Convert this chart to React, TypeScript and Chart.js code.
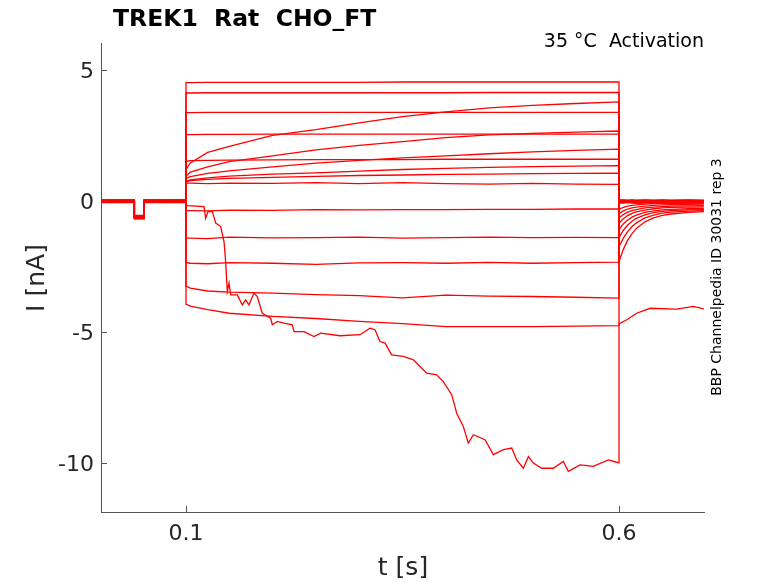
import React, { useEffect, useRef } from 'react';
import { Chart, registerables } from 'chart.js';

Chart.register(...registerables);

const FONT = '"DejaVu Sans", "Liberation Sans", sans-serif';
const AXIS_COLOR = '#555555';
const TEXT_COLOR = '#262626';
const TRACE_COLOR = '#ff0000';

const titleText = 'TREK1  Rat  CHO_FT';
const noteText = '35 °C  Activation';
const sideText = 'BBP Channelpedia ID 30031 rep 3';
const xLabel = 't [s]';
const yLabel = 'I [nA]';

const X_MIN = 0.00185;
const X_MAX = 0.69815;
const Y_MIN = -11.88;
const Y_MAX = 6.03;

const xTickValues = [0.1, 0.6];
const xTickLabels = ['0.1', '0.6'];
const yTickValues = [-10, -5, 0, 5];
const yTickLabels = ['-10', '-5', '0', '5'];

// Holding period with the short test pulse (time in s)
const preTimes = [X_MIN, 0.0404, 0.0404, 0.0516, 0.0516, 0.1];
const holdLevels = [0.02, 0.0, -0.03, 0.03, -0.05, 0.01, -0.02, 0.04, -0.04, 0.0, 0.02, -0.06, 0.01, -0.03, 0.03, -0.01, 0.0];
const pulseDips = [-0.55, -0.6, -0.66, -0.58, -0.69, -0.62, -0.57, -0.64, -0.68, -0.6, -0.56, -0.67, -0.63, -0.59, -0.65, -0.61, -0.62];

// Voltage-step period
const stepTimes = [0.1, 0.105, 0.125, 0.15, 0.2, 0.25, 0.3, 0.35, 0.4, 0.45, 0.5, 0.55, 0.6];
const traceA = [4.52, 4.52, 4.53, 4.53, 4.53, 4.53, 4.53, 4.54, 4.54, 4.54, 4.54, 4.54, 4.54];
const traceB = [4.12, 4.12, 4.13, 4.13, 4.13, 4.13, 4.13, 4.13, 4.13, 4.14, 4.14, 4.14, 4.14];
const traceC = [1.2, 1.45, 1.85, 2.08, 2.5, 2.72, 2.98, 3.22, 3.4, 3.55, 3.65, 3.72, 3.78];
const traceD = [3.37, 3.37, 3.38, 3.38, 3.38, 3.38, 3.38, 3.38, 3.38, 3.38, 3.38, 3.38, 3.38];
const traceE = [0.95, 1.1, 1.3, 1.5, 1.72, 1.95, 2.12, 2.26, 2.42, 2.52, 2.58, 2.63, 2.67];
const traceF = [2.53, 2.53, 2.54, 2.54, 2.55, 2.55, 2.55, 2.55, 2.55, 2.55, 2.55, 2.55, 2.55];
const traceG = [0.85, 0.93, 1.05, 1.15, 1.3, 1.44, 1.55, 1.64, 1.72, 1.8, 1.87, 1.93, 1.98];
const traceH = [1.5, 1.54, 1.55, 1.56, 1.57, 1.58, 1.58, 1.58, 1.59, 1.59, 1.59, 1.59, 1.59];
const traceI = [0.75, 0.8, 0.88, 0.95, 1.02, 1.07, 1.14, 1.2, 1.24, 1.28, 1.31, 1.33, 1.35];
const traceJ = [0.72, 0.78, 0.82, 0.86, 0.9, 0.94, 0.97, 0.99, 1.01, 1.02, 1.04, 1.05, 1.06];
const traceK = [0.68, 0.68, 0.66, 0.68, 0.67, 0.7, 0.66, 0.7, 0.66, 0.64, 0.67, 0.64, 0.63];
const traceL = [-0.37, -0.37, -0.38, -0.35, -0.36, -0.33, -0.34, -0.33, -0.33, -0.32, -0.32, -0.31, -0.31];
const traceM = [-1.42, -1.42, -1.44, -1.38, -1.41, -1.4, -1.38, -1.42, -1.4, -1.38, -1.4, -1.39, -1.4];
const traceN = [-2.35, -2.38, -2.4, -2.36, -2.38, -2.42, -2.37, -2.36, -2.38, -2.35, -2.38, -2.36, -2.34];
const traceO = [-3.25, -3.33, -3.44, -3.48, -3.52, -3.58, -3.62, -3.7, -3.6, -3.64, -3.65, -3.68, -3.71];
const traceP = [-3.95, -4.02, -4.15, -4.29, -4.41, -4.49, -4.6, -4.69, -4.8, -4.8, -4.8, -4.78, -4.76];
const stepTraces = [traceA, traceB, traceC, traceD, traceE, traceF, traceG, traceH, traceI, traceJ, traceK, traceL, traceM, traceN, traceO, traceP];

// Tail currents after the step
const tailTimes = [0.6, 0.605, 0.61, 0.615, 0.62, 0.63, 0.64, 0.65, 0.66, 0.68, 0.698];
const tail1 = [-2.32, -1.85, -1.5, -1.25, -1.05, -0.8, -0.65, -0.55, -0.5, -0.44, -0.41];
const tail2 = [-1.75, -1.42, -1.17, -0.98, -0.84, -0.65, -0.54, -0.47, -0.43, -0.39, -0.37];
const tail3 = [-1.4, -1.12, -0.92, -0.78, -0.67, -0.53, -0.45, -0.4, -0.37, -0.34, -0.33];
const tail4 = [-1.1, -0.88, -0.73, -0.62, -0.54, -0.44, -0.38, -0.34, -0.32, -0.3, -0.29];
const tail5 = [-0.85, -0.68, -0.56, -0.48, -0.42, -0.35, -0.3, -0.27, -0.25, -0.24, -0.23];
const tail6 = [-0.65, -0.52, -0.43, -0.37, -0.33, -0.27, -0.24, -0.22, -0.2, -0.19, -0.18];
const tail7 = [-0.48, -0.38, -0.31, -0.27, -0.24, -0.2, -0.17, -0.15, -0.14, -0.13, -0.12];
const tail8 = [-0.32, -0.25, -0.2, -0.17, -0.15, -0.12, -0.1, -0.09, -0.08, -0.08, -0.07];
const tailFlat1 = [0.03, 0.03, 0.02, 0.03, 0.02, 0.03, 0.02, 0.03, 0.02, 0.03, 0.02];
const tailFlat2 = [-0.03, -0.03, -0.02, -0.03, -0.04, -0.03, -0.02, -0.03, -0.04, -0.03, -0.03];
const tailFlat3 = [-0.07, -0.07, -0.06, -0.07, -0.08, -0.07, -0.06, -0.07, -0.08, -0.07, -0.07];
const tailSets = [tail1, tail2, tail3, tail4, tail5, tail6, tail7, tail8, tailFlat1, tailFlat2, tailFlat3];
// which tail each step trace A..P continues into
const tailOfTrace = [6, 7, 0, 8, 1, 9, 2, 5, 3, 4, 10, 8, 9, 10, 9, 8];

// The trace whose seal breaks down during the step
const qTimes = [0.1, 0.1015, 0.1208, 0.1227, 0.1254, 0.1304, 0.1343, 0.1401, 0.1439, 0.1458, 0.1477, 0.1497, 0.1516, 0.1592, 0.165, 0.1689, 0.1727, 0.1785, 0.1823, 0.1881, 0.1978, 0.1997, 0.2054, 0.2132, 0.2227, 0.2247, 0.2363, 0.2478, 0.2555, 0.2778, 0.3009, 0.3125, 0.3182, 0.324, 0.3298, 0.3375, 0.3509, 0.3625, 0.3682, 0.3779, 0.3895, 0.3971, 0.4068, 0.4126, 0.4202, 0.426, 0.4318, 0.4453, 0.4549, 0.4664, 0.4761, 0.4819, 0.4895, 0.4954, 0.5012, 0.5107, 0.5242, 0.5357, 0.5415, 0.555, 0.5703, 0.5877, 0.5974, 0.6, 0.6, 0.6089, 0.6204, 0.6358, 0.6666, 0.6858, 0.698];
const qValues = [-0.15, -0.18, -0.22, -0.66, -0.41, -0.41, -0.85, -0.98, -1.55, -2.32, -3.46, -3.14, -3.59, -3.59, -3.97, -3.78, -3.97, -3.52, -3.65, -4.29, -4.48, -4.73, -4.6, -4.67, -4.73, -4.99, -4.99, -5.18, -5.05, -5.15, -5.11, -4.86, -4.92, -5.37, -5.43, -5.88, -5.94, -6.07, -6.26, -6.58, -6.64, -6.9, -7.4, -8.11, -8.61, -9.25, -8.93, -9.12, -9.69, -9.5, -9.44, -9.89, -10.21, -9.76, -10.01, -10.21, -10.21, -9.95, -10.33, -10.08, -10.14, -9.89, -9.98, -10.0, -4.7, -4.54, -4.29, -4.1, -4.13, -4.03, -4.12];

function prePoints(i: number) {
  const h = holdLevels[i];
  const d = pulseDips[i];
  const vals = [h, h, d, d, h, h];
  return preTimes.map((t, k) => ({ x: t, y: vals[k] }));
}

function buildDatasets() {
  const sets: any[] = [];
  stepTraces.forEach((tr, i) => {
    const pts = prePoints(i);
    stepTimes.forEach((t, k) => pts.push({ x: t, y: tr[k] }));
    const tail = tailSets[tailOfTrace[i]];
    tailTimes.forEach((t, k) => pts.push({ x: t, y: tail[k] }));
    sets.push(pts);
  });
  const q = prePoints(16);
  qTimes.forEach((t, k) => q.push({ x: t, y: qValues[k] }));
  sets.push(q);
  return sets.map((data) => ({
    data,
    borderColor: TRACE_COLOR,
    borderWidth: 1.3,
    pointRadius: 0,
    tension: 0,
    fill: false,
  }));
}

const overlay = {
  id: 'overlay',
  afterDraw(chart: any) {
    const { ctx, chartArea, scales } = chart;
    ctx.save();
    // inward tick marks
    ctx.strokeStyle = AXIS_COLOR;
    ctx.lineWidth = 1;
    ctx.beginPath();
    yTickValues.forEach((v) => {
      const py = Math.round(scales.y.getPixelForValue(v)) + 0.5;
      ctx.moveTo(chartArea.left, py);
      ctx.lineTo(chartArea.left + 6, py);
    });
    xTickValues.forEach((v) => {
      const px = Math.round(scales.x.getPixelForValue(v)) + 0.5;
      ctx.moveTo(px, chartArea.bottom);
      ctx.lineTo(px, chartArea.bottom - 6);
    });
    ctx.stroke();

    // y tick labels (digits centred on the tick)
    ctx.fillStyle = TEXT_COLOR;
    ctx.font = `22px ${FONT}`;
    ctx.textAlign = 'right';
    ctx.textBaseline = 'alphabetic';
    yTickValues.forEach((v, i) => {
      const py = scales.y.getPixelForValue(v);
      ctx.fillText(yTickLabels[i], chartArea.left - 7, py + 8);
    });

    // title
    ctx.fillStyle = '#000000';
    ctx.textAlign = 'left';
    ctx.font = `bold 23.5px ${FONT}`;
    ctx.fillText(titleText, 113, 26);

    // condition note
    ctx.textAlign = 'right';
    ctx.font = `19px ${FONT}`;
    ctx.fillText(noteText, 704, 47);

    // side id text
    ctx.save();
    ctx.translate(721, 277);
    ctx.rotate(-Math.PI / 2);
    ctx.textAlign = 'center';
    ctx.font = `14px ${FONT}`;
    ctx.fillText(sideText, 0, 0);
    ctx.restore();

    // axis labels
    ctx.fillStyle = TEXT_COLOR;
    ctx.font = `25px ${FONT}`;
    ctx.textAlign = 'center';
    ctx.fillText(xLabel, 403, 575);
    ctx.save();
    ctx.translate(44, 278);
    ctx.rotate(-Math.PI / 2);
    ctx.fillText(yLabel, 0, 0);
    ctx.restore();

    ctx.restore();
  },
};

export default function App() {
  const canvasRef = useRef<HTMLCanvasElement | null>(null);

  useEffect(() => {
    if (!canvasRef.current) return;
    const chart = new Chart(canvasRef.current, {
      type: 'line',
      data: { datasets: buildDatasets() as any },
      options: {
        animation: false,
        responsive: true,
        maintainAspectRatio: false,
        layout: { padding: { left: 0, top: 43, right: 74, bottom: 0 } },
        plugins: { legend: { display: false }, tooltip: { enabled: false }, title: { display: false } },
        events: [],
        scales: {
          x: {
            type: 'linear',
            min: X_MIN,
            max: X_MAX,
            grid: { display: false, drawTicks: false },
            border: { display: true, color: AXIS_COLOR, width: 1 },
            ticks: {
              color: TEXT_COLOR,
              font: { family: FONT, size: 22 },
              padding: 9,
              maxRotation: 0,
              autoSkip: false,
              callback: (v: any) => {
                const i = xTickValues.indexOf(Number(v));
                return i >= 0 ? xTickLabels[i] : '';
              },
            },
            afterBuildTicks: (s: any) => {
              s.ticks = xTickValues.map((value) => ({ value }));
            },
            afterFit: (s: any) => {
              s.height = 71;
            },
          },
          y: {
            type: 'linear',
            min: Y_MIN,
            max: Y_MAX,
            grid: { display: false, drawTicks: false },
            border: { display: true, color: AXIS_COLOR, width: 1 },
            ticks: { display: false },
            afterBuildTicks: (s: any) => {
              s.ticks = yTickValues.map((value) => ({ value }));
            },
            afterFit: (s: any) => {
              s.width = 101;
            },
          },
        },
      },
      plugins: [overlay],
    });
    return () => chart.destroy();
  }, []);

  return (
    <div style={{ position: 'fixed', left: 0, top: 0, width: 778, height: 583, background: '#ffffff' }}>
      <canvas ref={canvasRef} />
    </div>
  );
}
